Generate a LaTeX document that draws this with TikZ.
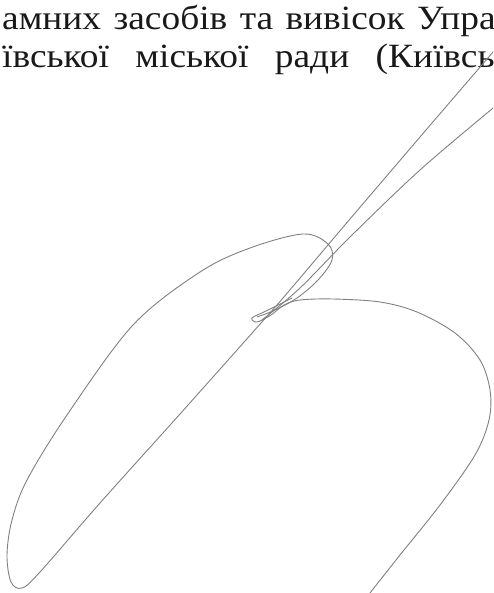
\documentclass[tikz,border=0pt]{standalone}
\usepackage{fontspec}
\setmainfont[FakeStretch=1.1]{Liberation Serif}
\usetikzlibrary{positioning}

\begin{document}
\begin{tikzpicture}[x=1pt, y=-1pt,
    word/.style={inner sep=0pt, font=\fontsize{34}{40}\selectfont, text=black!90},
    pen/.style={draw=black!50, line width=0.9pt, line cap=round, line join=round}]
        % Рамка сторінки
        \useasboundingbox (0,0) rectangle (493,593);
        \clip (0,0) rectangle (493,593);
        % Перший рядок тексту
        \node[word, anchor=base west] (w1) at (2,30) {амних};
        \node[word, base right=12pt of w1] (w2) {засобів};
        \node[word, base right=12pt of w2] (w3) {та};
        \node[word, base right=12pt of w3] (w4) {вивісок};
        \node[word, base right=12pt of w4] (w5) {Управ};
        % Другий рядок тексту (розтягнутий)
        \node[word, anchor=base west] (v1) at (2,68) {ївської};
        \node[word, base right=26pt of v1] (v2) {міської};
        \node[word, base right=26pt of v2] (v3) {ради};
        \node[word, base right=26pt of v3] (v4) {(Київсь};
        % Підпис: довга лінія та ліва петля
        \draw[pen] plot[smooth, tension=0.55] coordinates {(520,20) (493,52) (426,130) (350,219) (283,298) (253,332) (180,414) (100,503) (40,572) (22,588) (11,582) (7,555) (12,520) (27,480) (67,415) (133,325) (200,272) (250,248) (303,234) (328,244) (332,260) (318,280) (297,298) (275,310) (257,317)};
        % Підпис: вузол та права петля
        \draw[pen] plot[smooth, tension=0.55] coordinates {(292,298) (266,311) (252,318) (257,322) (271,315) (284,305) (300,300) (333,299) (380,302) (417,312) (455,333) (480,360) (490,390) (489,420) (475,455) (440,505) (400,555) (370,593) (360,606)};
        % Підпис: друга лінія вгору
        \draw[pen] plot[smooth, tension=0.55] coordinates {(262,320) (300,288) (350,237) (420,170) (493,108) (520,85)};
\end{tikzpicture}
\end{document}
